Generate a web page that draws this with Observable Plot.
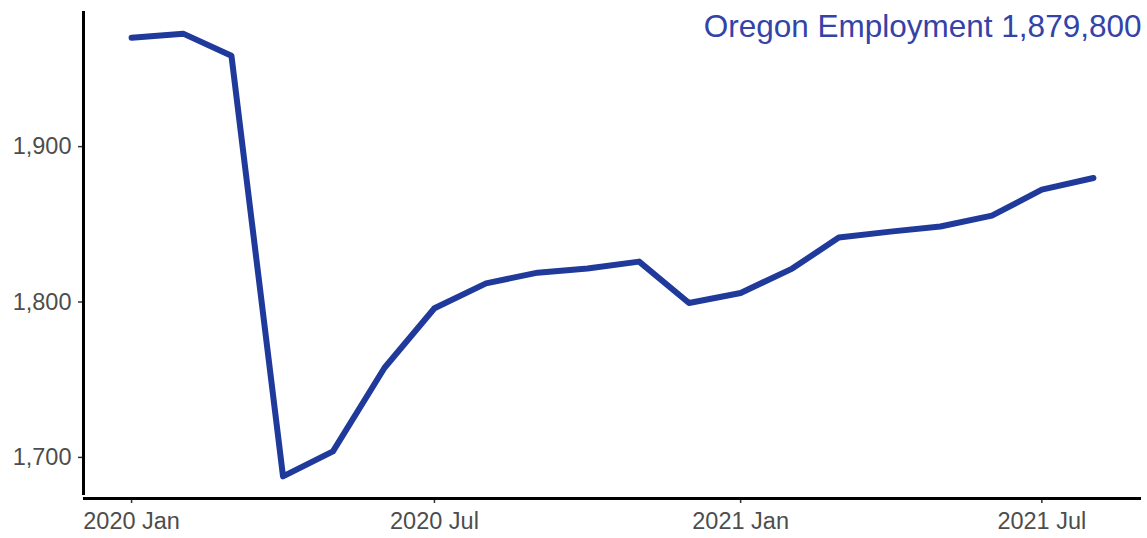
<!DOCTYPE html>
<html>
<head>
<meta charset="utf-8">
<script src="https://cdn.jsdelivr.net/npm/d3@7"></script>
<script src="https://cdn.jsdelivr.net/npm/@observablehq/plot@0.6"></script>
<style>
  html, body { margin: 0; padding: 0; background: #fff; }
  #chart { width: 1147px; height: 538px; }
</style>
</head>
<body>
<div id="chart"></div>
<script>
const months = ["2020-01","2020-02","2020-03","2020-04","2020-05","2020-06","2020-07","2020-08","2020-09","2020-10","2020-11","2020-12",
                "2021-01","2021-02","2021-03","2021-04","2021-05","2021-06","2021-07","2021-08"];
const employment = [1970.0, 1972.7, 1958.5, 1687.8, 1703.9, 1757.7, 1796.0, 1812.0, 1818.9, 1821.5, 1826.0, 1799.4,
                    1805.8, 1821.5, 1841.5, 1845.3, 1848.6, 1855.6, 1872.3, 1879.8];
const yTicks = [1700, 1800, 1900];
const xTicks = ["2020-01","2020-07","2021-01","2021-07"];
const title = "Oregon Employment 1,879,800";

const data = months.map((m, i) => ({date: new Date(m + "-01T00:00:00Z"), value: employment[i]}));

const dates = data.map(d => +d.date);
const dMin = d3.min(dates), dMax = d3.max(dates);
const dPad = (dMax - dMin) * 0.05;
const vMin = d3.min(employment), vMax = d3.max(employment);
const vPad = (vMax - vMin) * 0.05;
const xDomain = [new Date(dMin - dPad), new Date(dMax + dPad)];
const yDomain = [vMin - vPad, vMax + vPad];

const monthNames = ["Jan","Feb","Mar","Apr","May","Jun","Jul","Aug","Sep","Oct","Nov","Dec"];
const fmtDate = d => `${d.getUTCFullYear()} ${monthNames[d.getUTCMonth()]}`;

const chart = Plot.plot({
  width: 1147,
  height: 538,
  marginLeft: 83,
  marginRight: 6,
  marginTop: 11,
  marginBottom: 40,
  style: {fontFamily: "Liberation Sans, Arial, sans-serif", background: "#fff"},
  x: {type: "utc", domain: xDomain},
  y: {domain: yDomain},
  marks: [
    Plot.axisY({ticks: yTicks, tickFormat: d3.format(","), tickSize: 5, tickPadding: 7,
      fontSize: 23.5, color: "#4d4d4d", stroke: "#333", strokeWidth: 1.5, label: null}),
    Plot.axisX({ticks: xTicks.map(m => new Date(m + "-01T00:00:00Z")), tickFormat: fmtDate, tickSize: 5, tickPadding: 9,
      fontSize: 23.5, color: "#4d4d4d", stroke: "#333", strokeWidth: 1.5, label: null}),
    Plot.ruleX([xDomain[0]], {y1: yDomain[0], y2: yDomain[1], stroke: "#000", strokeWidth: 3, insetTop: -3}),
    Plot.ruleY([yDomain[0]], {stroke: "#000", strokeWidth: 3}),
    Plot.line(data, {x: "date", y: "value", stroke: "#1f3a9b", strokeWidth: 6, strokeLinejoin: "round"}),
    Plot.text([title], {frameAnchor: "top-right", text: d => d, textAnchor: "end", lineAnchor: "top",
      dx: 0, dy: 3, fontSize: 31.5, fill: "#3343a8", fontFamily: "Liberation Sans, Arial, sans-serif"})
  ]
});
document.getElementById("chart").appendChild(chart);
</script>
</body>
</html>
